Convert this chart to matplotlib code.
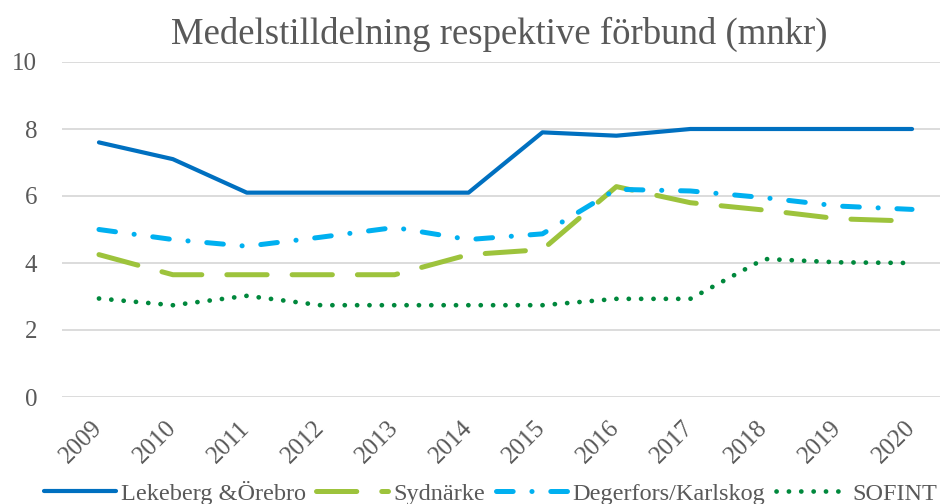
import numpy as np
import matplotlib
matplotlib.use("Agg")
from matplotlib import pyplot as plt

# data (mnkr)
years = ["2009", "2010", "2011", "2012", "2013", "2014",
         "2015", "2016", "2017", "2018", "2019", "2020"]
lekeberg = [7.6, 7.1, 6.1, 6.1, 6.1, 6.1, 7.9, 7.8, 8.0, 8.0, 8.0, 8.0]
sydnarke = [4.25, 3.65, 3.65, 3.65, 3.65, 4.25, 4.4, 6.28, 5.8, 5.58, 5.32, 5.25]
degerfors = [5.0, 4.7, 4.5, 4.77, 5.06, 4.7, 4.87, 6.2, 6.15, 5.95, 5.7, 5.6]
sofint = [2.94, 2.74, 3.02, 2.74, 2.74, 2.74, 2.74, 2.93, 2.93, 4.12, 4.02, 4.0]

plt.rcParams["font.family"] = ["Liberation Serif", "DejaVu Serif"]
plt.rcParams["lines.scale_dashes"] = False
txt_col = "#595959"

fig = plt.figure(figsize=(9.4, 5.04), dpi=100)
ax = fig.add_axes([62 / 940, 1 - 397 / 504, 887 / 940, 335 / 504])

x = np.arange(len(years))
ax.plot(x, lekeberg, color="#0070C0", lw=3.0, solid_capstyle="round",
        solid_joinstyle="round", label="Lekeberg &Örebro")
ax.plot(x, sydnarke, color="#9DC33C", lw=3.6, dash_capstyle="round",
        dash_joinstyle="round", dashes=(29, 18), label="Sydnärke")
ax.plot(x, degerfors, color="#00B0F0", lw=3.6, dash_capstyle="round",
        dash_joinstyle="round", dashes=(12, 13.5, 0.1, 13.5), label="Degerfors/Karlskog")
ax.plot(x, sofint, color="#00883C", lw=3.4, dash_capstyle="round",
        dashes=(0.1, 8.8), label="SOFINT")

ax.set_xlim(-0.5, len(years) - 0.5)
ax.set_ylim(0, 10)
ax.set_yticks([0, 2, 4, 6, 8, 10])
ax.set_xticks(x)
ax.set_xticklabels(years, rotation=45, ha="right", va="center",
                   rotation_mode="anchor")
ax.tick_params(axis="both", length=0, labelsize=18, labelcolor=txt_col)
ax.tick_params(axis="y", pad=18)
ax.tick_params(axis="x", pad=20)

# grid
ax.set_axisbelow(True)
ax.grid(axis="y", color="#D9D9D9", lw=1.3)
for s in ax.spines.values():
    s.set_visible(False)

fig.text(0.531, 1 - 44 / 504, "Medelstilldelning respektive förbund (mnkr)",
         ha="center", va="baseline", fontsize=26.5, color=txt_col)

leg = fig.legend(loc="center", bbox_to_anchor=(0.522, 1 - 493 / 504), ncol=4,
                 frameon=False, fontsize=17.5, handlelength=2.95,
                 handletextpad=0.2, columnspacing=0.45)
for t in leg.get_texts():
    t.set_color(txt_col)

fig.savefig("out.png", dpi=100)
